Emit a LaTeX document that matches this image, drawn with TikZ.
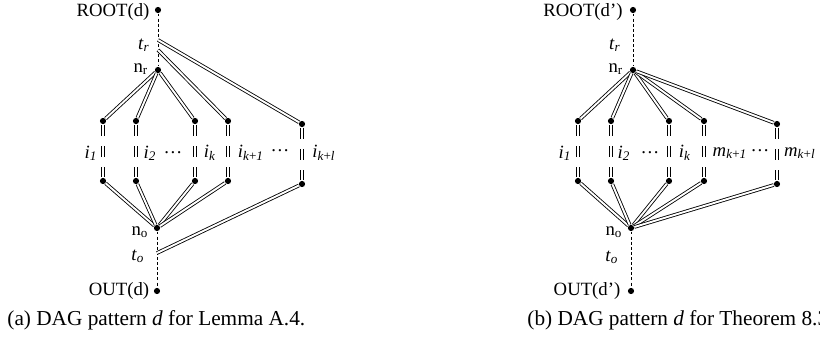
\documentclass[tikz,border=0pt]{standalone}
\usepackage{fontspec}
\setmainfont{Liberation Serif}
\usepackage{tikz}

\tikzset{
  dot/.style={shape=circle,fill=black,inner sep=0pt,minimum size=2.9pt},
  dblline/.style={draw,double,double distance=0.9pt,line width=0.4pt},
  dbl/.style={every edge/.style={dblline}},
  gapdbl/.style={every edge/.style={dblline,dash pattern=on 5.4pt off 4.7pt}},
  spine/.style={every edge/.style={draw,line width=0.4pt,dash pattern=on 1.4pt off 1pt}},
  lbl/.style={inner sep=0pt,font=\fontsize{8.8}{10}\selectfont},
}
\newcommand{\varlab}[2]{\textit{#1}\textsubscript{\textit{#2}}}

\begin{document}
\begin{tikzpicture}[x=0.47pt,y=-0.47pt]
    	\useasboundingbox (0,0) rectangle (820,343);
    	
    	% (a) pattern for the lemma
    	\node[dot] (rootA) at (158, 10)  {};
    	\coordinate (trA1) at (158, 40);
    	\coordinate (trA2) at (158, 50);
    	\node[dot] (nrA) at (158, 70)  {};
    	\node[dot] (noA) at (157, 228) {};
    	\coordinate (toA) at (157, 253);
    	\node[dot] (outA) at (157, 291) {};
    	
    	\node[dot] (a1) at (103, 121) {};
    	\node[dot] (a2) at (136, 121) {};
    	\node[dot] (a3) at (195, 121) {};
    	\node[dot] (a4) at (228, 121) {};
    	\node[dot] (a5) at (302, 124) {};
    	\node[dot] (b1) at (103, 181) {};
    	\node[dot] (b2) at (136, 181) {};
    	\node[dot] (b3) at (195, 181) {};
    	\node[dot] (b4) at (228, 181) {};
    	\node[dot] (b5) at (302, 184) {};
    	
    	\node[lbl] (rootAl) at (113, 12)  {ROOT(d)};
    	\node[lbl] (trAl)   at (144, 45)  {\varlab{t}{r}};
    	\node[lbl] (nrAl)   at (141, 69)  {n\textsubscript{r}};
    	\node[lbl] (noAl)   at (140, 232) {n\textsubscript{o}};
    	\node[lbl] (toAl)   at (138, 256) {\varlab{t}{o}};
    	\node[lbl] (outAl)  at (119, 291) {OUT(d)};
    	\node[lbl] (i1A)  at (91, 153)  {\varlab{i}{1}};
    	\node[lbl] (i2A)  at (150, 153) {\varlab{i}{2}};
    	\node[lbl] (dotA1) at (173, 153) {\dots};
    	\node[lbl] (ikA)  at (210, 153) {\varlab{i}{k}};
    	\node[lbl] (ik1A) at (251, 153) {\textit{i}\textsubscript{\textit{k}+\textit{1}}};
    	\node[lbl] (dotA2) at (280, 151) {\dots};
    	\node[lbl] (iklA) at (324, 153) {\textit{i}\textsubscript{\textit{k}+\textit{l}}};
    	
    	\path[spine] (rootA) edge (nrA);
    	\path[spine] (noA) edge (outA);
    	\path[dbl] (nrA) edge (a1) edge (a2) edge (a3);
    	\path[dbl] (trA2) edge (a4);
    	\path[dbl] (trA1) edge (a5);
    	\path[gapdbl] (a1) edge (b1) (a2) edge (b2) (a3) edge (b3) (a4) edge (b4) (a5) edge (b5);
    	\path[dbl] (noA) edge (b1) edge (b2) edge (b3) edge (b4);
    	\path[dbl] (toA) edge (b5);
    	
    	% (b) pattern for the theorem
    	\node[dot] (rootB) at (633, 10)  {};
    	\node[dot] (nrB) at (633, 70)  {};
    	\node[dot] (noB) at (631, 228) {};
    	\node[dot] (outB) at (631, 291) {};
    	
    	\node[dot] (c1) at (578, 121) {};
    	\node[dot] (c2) at (611, 121) {};
    	\node[dot] (c3) at (669, 121) {};
    	\node[dot] (c4) at (704, 121) {};
    	\node[dot] (c5) at (777, 124) {};
    	\node[dot] (d1) at (578, 181) {};
    	\node[dot] (d2) at (611, 181) {};
    	\node[dot] (d3) at (669, 181) {};
    	\node[dot] (d4) at (704, 181) {};
    	\node[dot] (d5) at (777, 184) {};
    	
    	\node[lbl] (rootBl) at (583, 12)  {ROOT(d')};
    	\node[lbl] (trBl)   at (615, 45)  {\varlab{t}{r}};
    	\node[lbl] (nrBl)   at (616, 69)  {n\textsubscript{r}};
    	\node[lbl] (noBl)   at (614, 232) {n\textsubscript{o}};
    	\node[lbl] (toBl)   at (612, 257) {\varlab{t}{o}};
    	\node[lbl] (outBl)  at (587, 291) {OUT(d')};
    	\node[lbl] (i1B)  at (565, 153) {\varlab{i}{1}};
    	\node[lbl] (i2B)  at (624, 153) {\varlab{i}{2}};
    	\node[lbl] (dotB1) at (650, 153) {\dots};
    	\node[lbl] (ikB)  at (685, 153) {\varlab{i}{k}};
    	\node[lbl] (mk1B) at (730, 153) {\textit{m}\textsubscript{\textit{k}+\textit{1}}};
    	\node[lbl] (dotB2) at (760, 151) {\dots};
    	\node[lbl] (mklB) at (800, 153) {\textit{m}\textsubscript{\textit{k}+\textit{l}}};
    	
    	\path[spine] (rootB) edge (nrB);
    	\path[spine] (noB) edge (outB);
    	\path[dbl] (nrB) edge (c1) edge (c2) edge (c3) edge (c4) edge (c5);
    	\path[gapdbl] (c1) edge (d1) (c2) edge (d2) (c3) edge (d3) (c4) edge (d4) (c5) edge (d5);
    	\path[dbl] (noB) edge (d1) edge (d2) edge (d3) edge (d4) edge (d5);
    	
    	% captions
    	\node[inner sep=0pt,anchor=west] (capA) at (7, 320)   {(a) DAG pattern \textit{d} for Lemma A.4.};
    	\node[inner sep=0pt,anchor=west] (capB) at (527, 320) {(b) DAG pattern \textit{d} for Theorem 8.3.};
    	
\end{tikzpicture}
\end{document}
